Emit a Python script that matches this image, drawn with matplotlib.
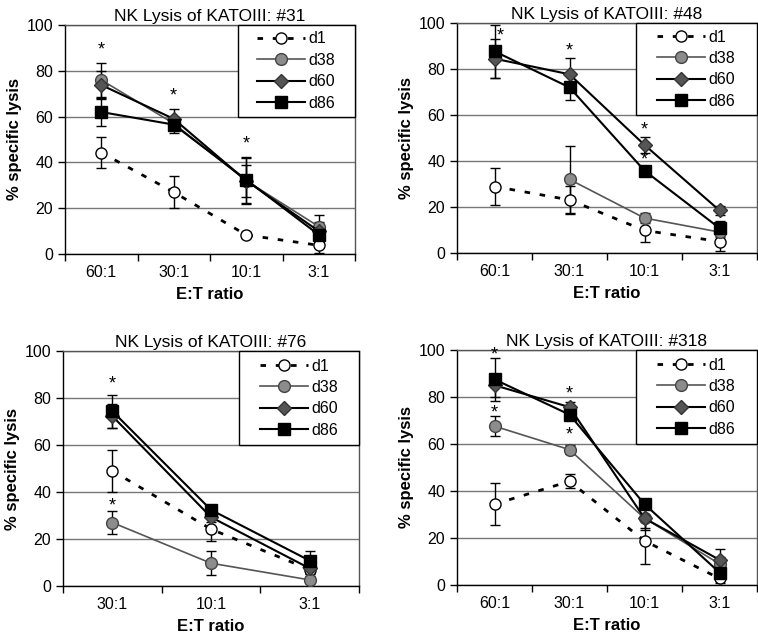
import matplotlib.pyplot as plt
from matplotlib.patches import Rectangle
import numpy as np

plt.rcParams['font.family'] = ['Liberation Sans', 'DejaVu Sans']

# panel titles and x categories
titles = ['NK Lysis of KATOIII: #31', 'NK Lysis of KATOIII: #48',
          'NK Lysis of KATOIII: #76', 'NK Lysis of KATOIII: #318']
cats4 = ['60:1', '30:1', '10:1', '3:1']
cats3 = ['30:1', '10:1', '3:1']
series = ['d1', 'd38', 'd60', 'd86']

# #31
p31_d1 = [44.3, 27, 8.3, 3.8]
p31_d1_err = [6.8, 7, 1.5, 3.5]
p31_d38 = [76, 57, 32, 12]
p31_d38_err = [7.5, 3, 10, 5]
p31_d60 = [73.8, 59, 32, 10]
p31_d60_err = [6, 4.5, 7, 4]
p31_d86 = [62, 56.5, 32.4, 8.4]
p31_d86_err = [6, 3.5, 10, 3]
p31_star_x = [0, 1, 2]
p31_star_y = [89, 69, 48]

# #48
p48_d1 = [28.9, 23.1, 9.8, 5]
p48_d1_err = [8, 6, 5, 4]
p48_d38 = [np.nan, 32, 15.2, 9.1]
p48_d38_err = [0, 14.5, 2, 2]
p48_d60 = [84.5, 77.7, 47, 18.5]
p48_d60_err = [8.5, 7, 3.5, 2]
p48_d86 = [87.7, 72, 35.8, 10.8]
p48_d86_err = [11.5, 5.5, 2, 3]
p48_star_x = [0.08, 1, 2, 2]
p48_star_y = [94.5, 88, 53.5, 40.5]

# #76
p76_d1 = [49, 24.2, 7]
p76_d1_err = [9, 5, 2]
p76_d38 = [27, 9.7, 2.6]
p76_d38_err = [5, 5, 1.5]
p76_d60 = [72.3, 29.3, 7.5]
p76_d60_err = [5, 2, 2]
p76_d86 = [74.4, 32.4, 10.8]
p76_d86_err = [7, 2, 4]
p76_star_x = [0, 0]
p76_star_y = [85.8, 33.9]

# #318
p318_d1 = [34.4, 44.1, 18.8, 2.8]
p318_d1_err = [9, 3, 10, 2]
p318_d38 = [67.6, 57.6, 28.4, 9]
p318_d38_err = [4.2, 2, 5, 3]
p318_d60 = [85, 75.7, 28.4, 10.7]
p318_d60_err = [5, 2, 4, 4.5]
p318_d86 = [87.5, 72.5, 34.4, 5.3]
p318_d86_err = [9, 2, 2, 2]
p318_star_x = [0, 0, 1, 1]
p318_star_y = [97.7, 73.3, 81.4, 63.7]

panels = [
    (cats4, [p31_d1, p31_d38, p31_d60, p31_d86],
     [p31_d1_err, p31_d38_err, p31_d60_err, p31_d86_err], p31_star_x, p31_star_y),
    (cats4, [p48_d1, p48_d38, p48_d60, p48_d86],
     [p48_d1_err, p48_d38_err, p48_d60_err, p48_d86_err], p48_star_x, p48_star_y),
    (cats3, [p76_d1, p76_d38, p76_d60, p76_d86],
     [p76_d1_err, p76_d38_err, p76_d60_err, p76_d86_err], p76_star_x, p76_star_y),
    (cats4, [p318_d1, p318_d38, p318_d60, p318_d86],
     [p318_d1_err, p318_d38_err, p318_d60_err, p318_d86_err], p318_star_x, p318_star_y),
]

# styles per series
styles = [
    dict(color='black', lw=2.0, dashes=(2, 3.5), marker='o', ms=8, mfc='white', mec='black', mew=1.0),
    dict(color='#555555', lw=1.2, marker='o', ms=8.5, mfc='#8c8c8c', mec='#444444', mew=1.0),
    dict(color='black', lw=1.5, marker='D', ms=7, mfc='#555555', mec='#333333', mew=1.0),
    dict(color='black', lw=1.5, marker='s', ms=8, mfc='black', mec='black', mew=1.0),
]

W, H = 758, 637
fig = plt.figure(figsize=(W / 100, H / 100), dpi=100)
# axes boxes in pixels: left, right, top, bottom
boxes = [(65, 355, 25, 254), (457, 757, 23, 253), (63, 359, 351, 586), (457, 757, 350, 585)]
# legend box in axes fraction
lx0, ly0 = 0.595, 0.598

for (cats, vals, errs, sx, sy), title, (l, r, t, b) in zip(panels, titles, boxes):
    ax = fig.add_axes([l / W, 1 - b / H, (r - l) / W, (b - t) / H])
    x = np.arange(len(cats))
    for name, v, e, st in zip(series, vals, errs, styles):
        v = np.array(v, dtype=float)
        e = np.array(e, dtype=float)
        ax.errorbar(x, v, yerr=e, fmt='none', ecolor='black', elinewidth=1.0,
                    capsize=3.5, capthick=1.0, zorder=2)
        ax.plot(x, v, label=name, zorder=3, **st)
    for xi, yi in zip(sx, sy):
        ax.text(xi, yi, '*', ha='center', va='center', fontsize=13, zorder=4)

    ax.set_xlim(-0.5, len(cats) - 0.5)
    ax.set_ylim(0, 100)
    ax.set_yticks([0, 20, 40, 60, 80, 100])
    ax.yaxis.grid(True, color='#777777', lw=1.0)
    ax.set_axisbelow(True)
    ax.set_xticks(np.arange(len(cats) + 1) - 0.5)
    ax.set_xticklabels([])
    ax.set_xticks(x, minor=True)
    ax.set_xticklabels(cats, minor=True)
    ax.tick_params(axis='x', which='minor', length=0, labelsize=11.5, pad=8)
    ax.tick_params(axis='x', which='major', length=5, width=1)
    ax.tick_params(axis='y', length=5, width=1, labelsize=11.5)
    for s in ax.spines.values():
        s.set_color('#555555')
        s.set_linewidth(1.0)
    ax.spines['left'].set_color('black')
    ax.spines['bottom'].set_color('black')
    ax.set_title(title, fontsize=12.5, pad=3)
    ax.set_xlabel('E:T ratio', fontsize=12, fontweight='bold', labelpad=5)
    ax.set_ylabel('% specific lysis', fontsize=12, fontweight='bold', labelpad=3)

    ax.add_patch(Rectangle((lx0, ly0), 1 - lx0, 1 - ly0, transform=ax.transAxes,
                           facecolor='white', edgecolor='black', lw=1.0, zorder=5, clip_on=False))
    leg = ax.legend(loc='center', bbox_to_anchor=(lx0, ly0, 1 - lx0, 1 - ly0), borderaxespad=0,
                    frameon=False, fontsize=11.5, handlelength=3.0, labelspacing=0.4,
                    borderpad=0.2, handletextpad=0.25)
    leg.set_zorder(6)

fig.savefig('out.png', dpi=100)
